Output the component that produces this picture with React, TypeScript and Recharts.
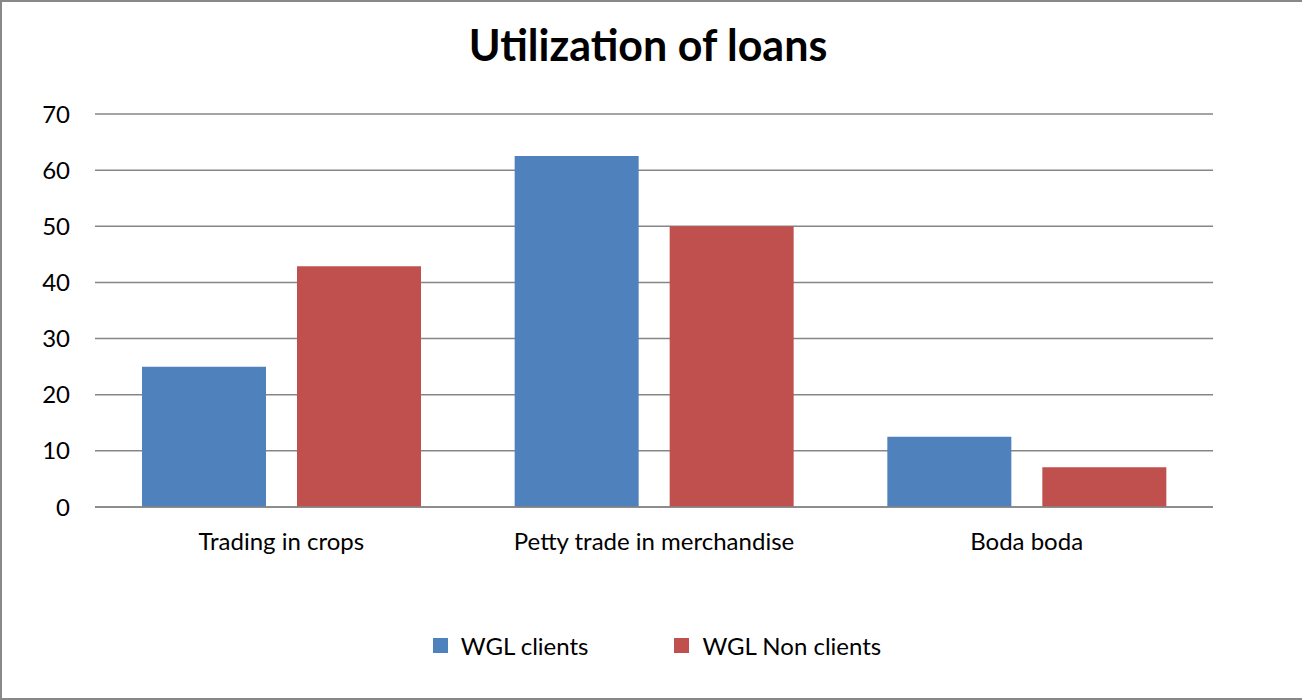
import React from 'react';
import { BarChart, Bar, XAxis, YAxis, CartesianGrid } from 'recharts';

// 카테고리와 시리즈 값
const categories = ['Trading in crops', 'Petty trade in merchandise', 'Boda boda'];
const wglClients = [25, 62.5, 12.5];
const wglNonClients = [42.9, 50, 7.1];
const yTicks = [0, 10, 20, 30, 40, 50, 60, 70];

const SERIES = [
  { key: 'clients', name: 'WGL clients', color: '#4F81BD' },
  { key: 'nonClients', name: 'WGL Non clients', color: '#C0504D' },
];
const GRID = '#868686';
const FONT = 'Lato, "Open Sans", sans-serif';

const data = categories.map((name, i) => ({
  name,
  clients: wglClients[i],
  nonClients: wglNonClients[i],
}));

const App: React.FC = () => {
  return (
    <div
      style={{
        position: 'absolute',
        top: 0,
        left: 0,
        width: 1302,
        height: 700,
        boxSizing: 'border-box',
        borderTop: '2px solid #888',
        borderLeft: '2px solid #888',
        borderBottom: '2px solid #888',
        background: '#fff',
      }}
    >
      <div
        style={{
          position: 'absolute',
          top: 17,
          left: 0,
          width: 1292,
          textAlign: 'center',
          fontFamily: FONT,
          fontWeight: 'bold',
          fontSize: 43,
          color: '#000',
        }}
      >
        Utilization of loans
      </div>
      <div style={{ position: 'absolute', top: -2, left: -2 }}>
        <BarChart
          width={1302}
          height={700}
          data={data}
          margin={{ top: 114, right: 89, bottom: 163, left: 0 }}
          barSize={124}
          barGap={31}
        >
          <CartesianGrid vertical={false} stroke={GRID} strokeWidth={1.5} />
          <XAxis
            dataKey="name"
            height={30}
            axisLine={{ stroke: GRID, strokeWidth: 1.5 }}
            tickLine={false}
            tickSize={0}
            tickMargin={26}
            tick={{ fill: '#000', fontSize: 24, fontFamily: FONT }}
          />
          <YAxis
            width={95}
            domain={[0, 70]}
            ticks={yTicks}
            axisLine={false}
            tickLine={false}
            tickSize={0}
            tickMargin={25}
            tick={{ fill: '#000', fontSize: 24, fontFamily: FONT }}
          />
          {SERIES.map((s) => (
            <Bar key={s.key} dataKey={s.key} name={s.name} fill={s.color} isAnimationActive={false} />
          ))}
        </BarChart>
      </div>
      <div
        style={{
          position: 'absolute',
          top: 629,
          left: 4,
          width: 1302,
          display: 'flex',
          justifyContent: 'center',
          fontFamily: FONT,
          fontSize: 24,
        }}
      >
        {SERIES.map((s, index) => (
          <div
            key={`legend-${index}`}
            style={{ display: 'flex', alignItems: 'center', marginLeft: index ? 86 : 0 }}
          >
            <div style={{ width: 15, height: 15, background: s.color, marginRight: 13 }} />
            <span style={{ color: '#000' }}>{s.name}</span>
          </div>
        ))}
      </div>
    </div>
  );
};

export default App;
